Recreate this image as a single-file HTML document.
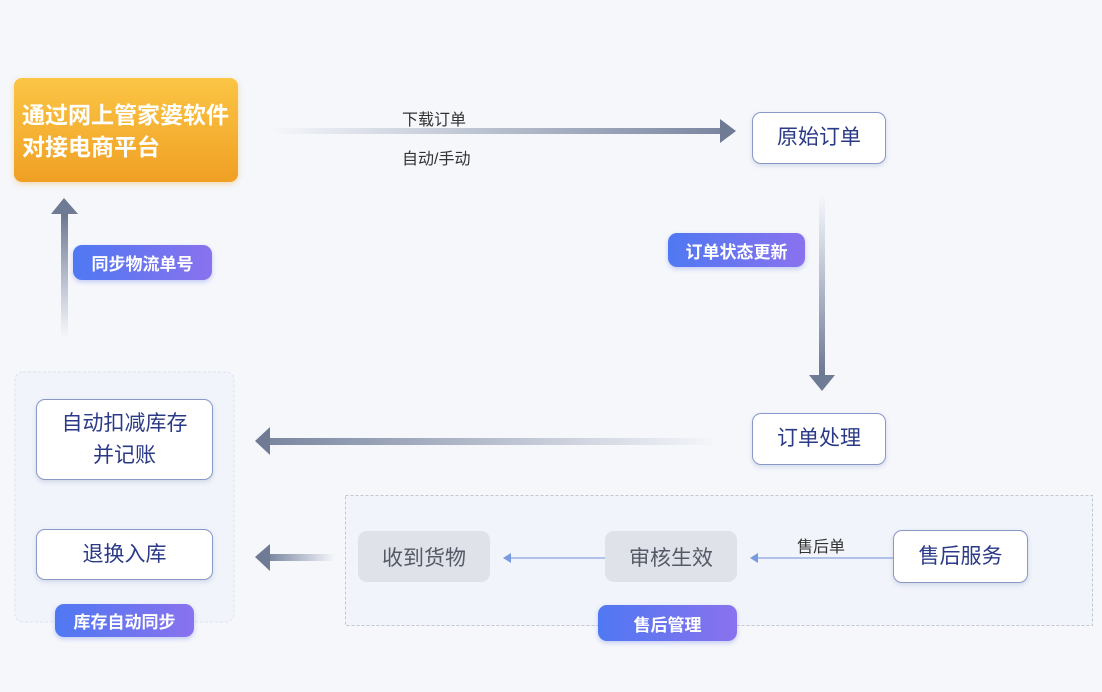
<!DOCTYPE html>
<html><head><meta charset="utf-8"><style>
body{margin:0;width:1102px;height:692px;background:#f5f7fb;position:relative;overflow:hidden;font-family:"Liberation Sans","Noto Sans CJK SC",sans-serif}
.a{position:absolute;box-sizing:border-box}
.box{background:#fff;border:1.5px solid #8a98c8;border-radius:9px;color:#2b3a86;font-size:21px;display:flex;align-items:center;justify-content:center;text-align:center;line-height:32px;box-shadow:0 2px 5px rgba(80,100,160,.2)}
.gray{background:#dfe2e8;border-radius:9px;color:#555b66;font-size:21px;display:flex;align-items:center;justify-content:center}
.badge{background:linear-gradient(90deg,#4f78f2,#8a72ee);border-radius:9px;color:#fff;font-size:17px;font-weight:bold;display:flex;align-items:center;justify-content:center;box-shadow:0 2px 5px rgba(80,100,230,.3)}
.lbl{position:absolute;font-size:16px;color:#333}
</style></head><body>
<svg class="a" style="left:0;top:0" width="1102" height="692">
<defs>
<linearGradient id="gh" x1="0" x2="1"><stop offset="0" stop-color="#7a86a0" stop-opacity="0"/><stop offset="1" stop-color="#7a86a0"/></linearGradient>
<linearGradient id="gl" x1="1" x2="0"><stop offset="0" stop-color="#7a86a0" stop-opacity="0"/><stop offset="1" stop-color="#7a86a0"/></linearGradient>
<linearGradient id="gv" x1="0" x2="0" y1="0" y2="1"><stop offset="0" stop-color="#7a86a0" stop-opacity="0"/><stop offset="1" stop-color="#6a7590"/></linearGradient>
<linearGradient id="gu" x1="0" x2="0" y1="1" y2="0"><stop offset="0" stop-color="#7a86a0" stop-opacity="0"/><stop offset="1" stop-color="#6a7590"/></linearGradient>
</defs>
<rect x="15" y="372" width="219" height="250" rx="8" fill="#f1f4fa" stroke="#dde2ec" stroke-dasharray="3,2"/>
<rect x="345.5" y="495.5" width="747" height="130" fill="#f1f4fa" stroke="#c0c6d2" stroke-dasharray="3,2"/>
<rect x="270" y="128" width="452" height="6" fill="url(#gh)"/>
<polygon points="720,119 736,131 720,143" fill="#6f7a95"/>
<rect x="819" y="195" width="6" height="182" fill="url(#gv)"/>
<polygon points="809,375 822,391 835,375" fill="#6f7a95"/>
<rect x="268" y="438" width="450" height="7" fill="url(#gl)"/>
<polygon points="270,427 255,441 270,455" fill="#6f7a95"/>
<rect x="268" y="554" width="67" height="7" fill="url(#gl)"/>
<polygon points="270,544 255,557 270,571" fill="#6f7a95"/>
<rect x="61" y="213" width="7" height="125" fill="url(#gu)"/>
<polygon points="51,214 64,198 78,214" fill="#6f7a95"/>
<line x1="510" y1="558" x2="605" y2="558" stroke="#8aa5e0" stroke-width="1.2"/>
<polygon points="503,558 511,553 511,563" fill="#7a9ae0"/>
<line x1="757" y1="558" x2="893" y2="558" stroke="#8aa5e0" stroke-width="1.2"/>
<polygon points="750,558 758,553 758,563" fill="#7a9ae0"/>
</svg>
<div class="a" style="left:14px;top:78px;width:224px;height:104px;border-radius:8px;background:linear-gradient(#fbc545,#f0a024);color:#fff;font-size:23px;font-weight:bold;line-height:32px;padding:21px 0 0 8px;box-shadow:0 2px 6px rgba(240,160,40,.35);white-space:nowrap">通过网上管家婆软件<br>对接电商平台</div>
<div class="lbl" style="left:402px;top:106px">下载订单</div>
<div class="lbl" style="left:402px;top:145px">自动/手动</div>
<div class="a box" style="left:752px;top:112px;width:134px;height:52px">原始订单</div>
<div class="a badge" style="left:668px;top:233px;width:137px;height:34px">订单状态更新</div>
<div class="a box" style="left:752px;top:413px;width:134px;height:52px">订单处理</div>
<div class="a badge" style="left:73px;top:245px;width:139px;height:35px">同步物流单号</div>
<div class="a box" style="left:36px;top:399px;width:177px;height:81px">自动扣减库存<br>并记账</div>
<div class="a box" style="left:36px;top:529px;width:177px;height:51px">退换入库</div>
<div class="a badge" style="left:55px;top:604px;width:139px;height:33px">库存自动同步</div>
<div class="a gray" style="left:358px;top:531px;width:132px;height:51px">收到货物</div>
<div class="a gray" style="left:605px;top:531px;width:132px;height:51px">审核生效</div>
<div class="lbl" style="left:797px;top:533px">售后单</div>
<div class="a box" style="left:893px;top:530px;width:135px;height:53px">售后服务</div>
<div class="a badge" style="left:598px;top:605px;width:139px;height:36px">售后管理</div>
</body></html>
